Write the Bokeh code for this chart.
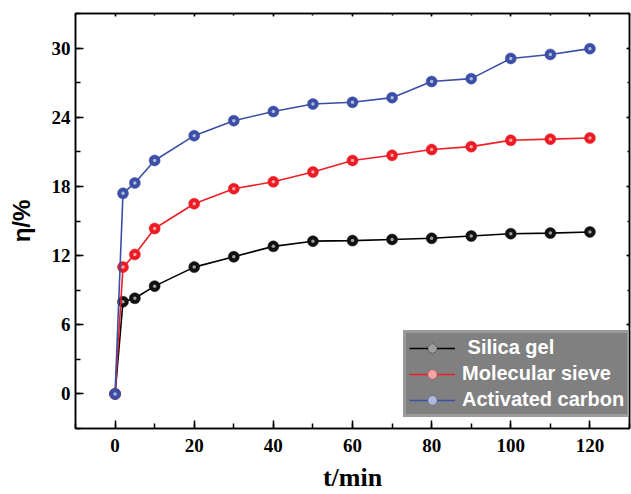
from bokeh.plotting import figure
from bokeh.models import Range1d, LinearAxis, FixedTicker, Legend, LegendItem
from bokeh.embed import file_html
from bokeh.resources import INLINE

# ---- data ----
time_min = [0, 2, 5, 10, 20, 30, 40, 50, 60, 70, 80, 90, 100, 110, 120]
silica_gel = [0, 8.0, 8.3, 9.35, 11.0, 11.9, 12.8, 13.25, 13.3, 13.4, 13.5, 13.7, 13.9, 13.95, 14.05]
molecular_sieve = [0, 11.0, 12.1, 14.35, 16.5, 17.8, 18.4, 19.25, 20.25, 20.7, 21.2, 21.45, 22.0, 22.1, 22.2]
activated_carbon = [0, 17.4, 18.3, 20.25, 22.4, 23.7, 24.5, 25.15, 25.3, 25.7, 27.1, 27.35, 29.1, 29.45, 29.95]
series_names = [" Silica gel", "Molecular sieve", "Activated carbon"]
x_ticks = [0, 20, 40, 60, 80, 100, 120]
y_ticks = [0, 6, 12, 18, 24, 30]

line_colors = ["#000000", "#ee1f26", "#3a4fa8"]
marker_colors = ["#111111", "#ec1c24", "#3c4fa6"]

p = figure(width=631, height=494, output_backend="svg", toolbar_location=None,
           x_range=Range1d(-10, 130), y_range=Range1d(-3, 33),
           min_border_left=75, min_border_right=2, min_border_top=13, min_border_bottom=62)
p.xgrid.visible = False
p.ygrid.visible = False
p.outline_line_color = "#000000"
p.outline_line_width = 1.5
p.background_fill_color = "white"
p.border_fill_color = "white"

serif = "Liberation Serif"
sans = "Liberation Sans"

# bottom axis
xa = p.xaxis[0]
xa.ticker = FixedTicker(ticks=x_ticks, minor_ticks=list(range(-10, 131, 10)))
xa.major_label_text_font = serif
xa.major_label_text_font_style = "bold"
xa.major_label_text_font_size = "19px"
xa.major_label_text_color = "#000000"
xa.major_tick_in = 8
xa.major_tick_out = 0
xa.minor_tick_in = 5
xa.minor_tick_out = 0
xa.major_label_standoff = 10
xa.axis_line_width = 1.5
xa.axis_line_color = "#000000"
xa.major_tick_line_width = 1.5
xa.minor_tick_line_width = 1.5
xa.axis_label = "t/min"
xa.axis_label_text_font = serif
xa.axis_label_text_font_style = "bold"
xa.axis_label_text_font_size = "26px"
xa.axis_label_text_color = "#000000"
xa.axis_label_standoff = 8

# left axis
ya = p.yaxis[0]
ya.ticker = FixedTicker(ticks=y_ticks, minor_ticks=list(range(-3, 34, 3)))
ya.major_label_text_font = serif
ya.major_label_text_font_style = "bold"
ya.major_label_text_font_size = "19px"
ya.major_label_text_color = "#000000"
ya.major_tick_in = 8
ya.major_tick_out = 0
ya.minor_tick_in = 5
ya.minor_tick_out = 0
ya.major_label_standoff = 5
ya.axis_line_width = 1.5
ya.axis_line_color = "#000000"
ya.major_tick_line_width = 1.5
ya.minor_tick_line_width = 1.5
ya.axis_label = "η/%"
ya.axis_label_text_font = sans
ya.axis_label_text_font_style = "bold"
ya.axis_label_text_font_size = "24px"
ya.axis_label_text_color = "#000000"
ya.axis_label_standoff = 14

# top and right axes: ticks only
top = LinearAxis(ticker=FixedTicker(ticks=x_ticks, minor_ticks=list(range(-10, 131, 10))),
                 major_label_text_font_size="0px", major_label_text_color=None,
                 major_label_standoff=0,
                 major_tick_in=3, major_tick_out=0, minor_tick_in=2, minor_tick_out=0,
                 axis_line_width=1.5, major_tick_line_width=1.5, minor_tick_line_width=1.5)
right = LinearAxis(ticker=FixedTicker(ticks=y_ticks, minor_ticks=list(range(-3, 34, 3))),
                   major_label_text_font_size="0px", major_label_text_color=None,
                   major_label_standoff=0,
                   major_tick_in=3, major_tick_out=0, minor_tick_in=2, minor_tick_out=0,
                   axis_line_width=1.5, major_tick_line_width=1.5, minor_tick_line_width=1.5)
p.add_layout(top, "above")
p.add_layout(right, "right")

items = []
for name, ys, lc, mc in zip(series_names, [silica_gel, molecular_sieve, activated_carbon],
                            line_colors, marker_colors):
    ln = p.line(time_min, ys, line_color=lc, line_width=1.6)
    mk = p.scatter(time_min, ys, size=11, fill_color=mc, line_color=mc, line_width=0.5)
    hl = p.scatter(time_min, ys, size=3.5, fill_color="white", fill_alpha=0.6, line_color=None)
    items.append(LegendItem(label=name, renderers=[ln, mk, hl]))

legend = Legend(items=items, location=(328, 11), orientation="vertical",
                background_fill_color="#808080", background_fill_alpha=1.0,
                border_line_color="#b4b4b4", border_line_width=3,
                label_text_font=sans, label_text_font_style="bold",
                label_text_font_size="20px", label_text_color="white",
                glyph_width=46, glyph_height=22, label_standoff=7,
                spacing=3, padding=3, margin=0, label_height=22)
p.add_layout(legend)

open("out.html", "w").write(file_html(p, INLINE))
